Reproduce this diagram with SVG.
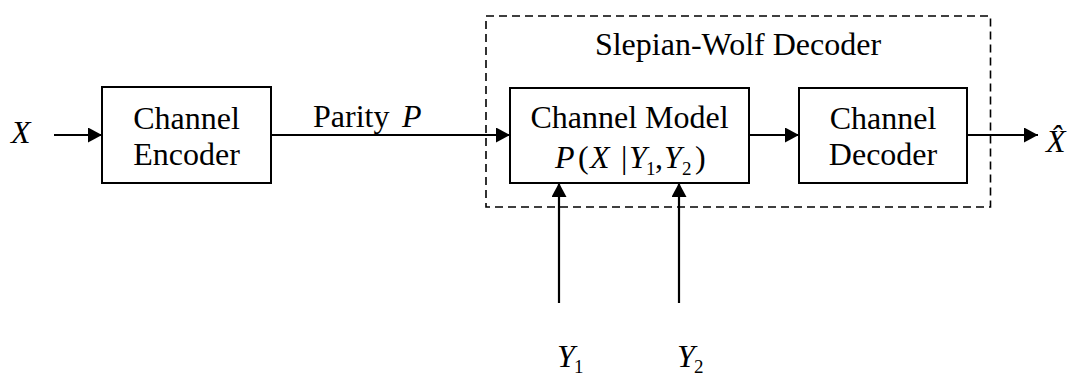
<svg xmlns="http://www.w3.org/2000/svg" width="1070" height="377" viewBox="0 0 1070 377">
<style>
.box{fill:#fff;stroke:#000;stroke-width:2}
.dash{fill:none;stroke:#000;stroke-width:1.6;stroke-dasharray:8 5}
.ln{fill:none;stroke:#000;stroke-width:2.2}
text{font-family:"Liberation Serif","Times New Roman",serif;fill:#000}
.t{font-size:32px;text-anchor:middle}
.m{font-size:32px}
.i{font-style:italic}
.s{font-size:19px}
</style>
<defs>
<marker id="ah" viewBox="0 0 14 15" refX="14" refY="7.5" markerWidth="14" markerHeight="15" markerUnits="userSpaceOnUse" orient="auto">
<path d="M0,0 L14,7.5 L0,15 Z" fill="#000"/>
</marker>
</defs>
<rect width="1070" height="377" fill="#fff"/>
<g id="sw-decoder">
<rect class="dash" x="486" y="16" width="504.5" height="191"/>
<text class="t" x="738" y="55">Slepian-Wolf Decoder</text>
</g>
<g id="connectors">
<line class="ln" x1="54" y1="135" x2="102" y2="135" marker-end="url(#ah)"/>
<line class="ln" x1="271" y1="135" x2="510" y2="135" marker-end="url(#ah)"/>
<line class="ln" x1="749" y1="135" x2="799" y2="135" marker-end="url(#ah)"/>
<line class="ln" x1="967" y1="135" x2="1038" y2="135" marker-end="url(#ah)"/>
<line class="ln" x1="559" y1="303" x2="559" y2="183" marker-end="url(#ah)"/>
<line class="ln" x1="679" y1="303" x2="679" y2="183" marker-end="url(#ah)"/>
</g>
<g id="label-x"><text class="m i" x="11" y="143">X</text></g>
<g id="label-parity"><text font-size="32" x="313" y="127">Parity <tspan class="i" x="402">P</tspan></text></g>
<g id="channel-encoder">
<rect class="box" x="102" y="87" width="169" height="96"/>
<text class="t" x="186.5" y="129">Channel</text>
<text class="t" x="186.5" y="165">Encoder</text>
</g>
<g id="channel-model">
<rect class="box" x="510" y="88" width="239" height="95"/>
<text class="t" x="629.5" y="128">Channel Model</text>
<text class="m" y="168"><tspan class="i" x="555">P</tspan><tspan x="578">(</tspan><tspan class="i" x="590">X</tspan><tspan x="621">|</tspan><tspan class="i" x="629">Y</tspan><tspan class="s" x="646" y="175">1</tspan><tspan x="655" y="168">,</tspan><tspan class="i" x="664">Y</tspan><tspan class="s" x="682" y="175">2</tspan><tspan x="695" y="168">)</tspan></text>
</g>
<g id="channel-decoder">
<rect class="box" x="799" y="88" width="168" height="95"/>
<text class="t" x="883" y="129">Channel</text>
<text class="t" x="883" y="165">Decoder</text>
</g>
<g id="label-xhat">
<text class="m i" x="1046" y="152">X&#x302;</text>
</g>
<g id="label-y1"><text class="m" y="367"><tspan class="i" x="557">Y</tspan><tspan class="s" x="574" y="373">1</tspan></text></g>
<g id="label-y2"><text class="m" y="367"><tspan class="i" x="677">Y</tspan><tspan class="s" x="694" y="373">2</tspan></text></g>
</svg>
